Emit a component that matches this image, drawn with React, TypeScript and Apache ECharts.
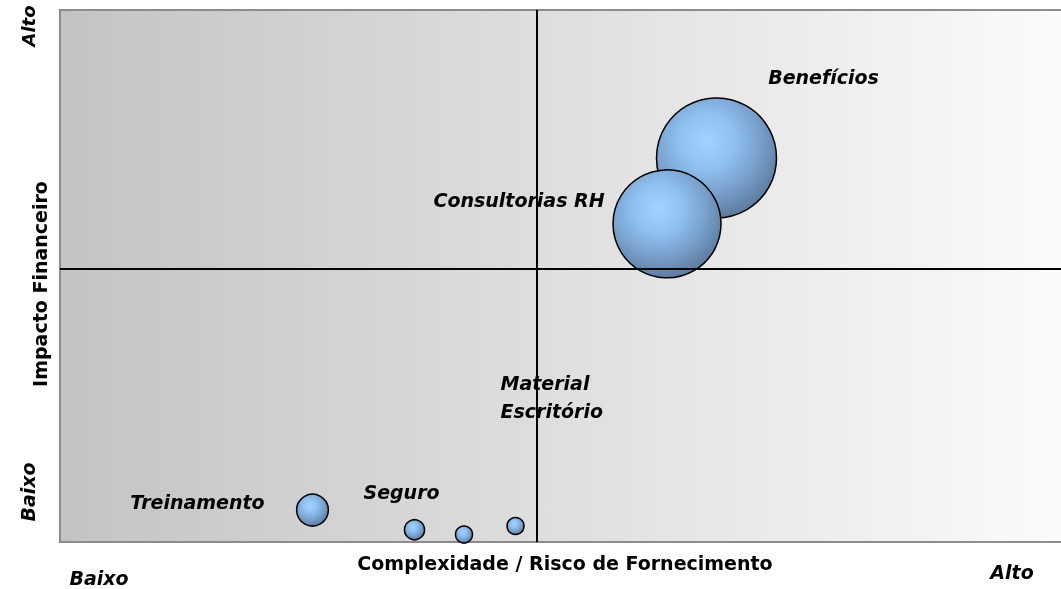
import React, { useEffect, useRef } from "react";
import * as echarts from "echarts";

const names = ["Benefícios", "Consultorias RH", "Treinamento", "Seguro", "", "Material\nEscritório"];
const complexidade = [65.0, 60.1, 25.0, 35.1, 40.0, 45.1];
const impacto = [72.2, 59.8, 6.0, 2.3, 1.4, 3.0];
const tamanho = [100, 81, 7, 2.8, 2, 2];
const labelOffsets: number[][] = [[107, -81], [-148, -24], [-115, -8], [-13, -38], [0, 0], [-15, -129]];
const divisorX = 47.2;
const divisorY = 51.3;

const FONT = "'DejaVu Sans', Verdana, sans-serif";

export default function App() {
  const ref = useRef<HTMLDivElement>(null);
  useEffect(() => {
    if (!ref.current) return;
    const chart = echarts.init(ref.current, undefined, { renderer: "svg" });
    const bubbleFill = new echarts.graphic.RadialGradient(0.42, 0.36, 0.64, [
      { offset: 0, color: "#a3d2ff" },
      { offset: 0.35, color: "#8fc1f1" },
      { offset: 0.7, color: "#789fca" },
      { offset: 1, color: "#5e7ea1" },
    ]);
    const data = names.map((n, i) => ({
      name: n,
      value: [complexidade[i], impacto[i], tamanho[i]],
      label: {
        show: n !== "",
        offset: labelOffsets[i],
        align: i === 5 ? "left" : "center",
      },
    }));
    const cornerFont = `italic bold 19px ${FONT}`;
    chart.setOption({
      animation: false,
      textStyle: { fontFamily: FONT },
      grid: {
        left: 60,
        top: 10,
        right: 0,
        bottom: 47,
        show: true,
        borderColor: "#8c8c8c",
        borderWidth: 2,
        backgroundColor: new echarts.graphic.LinearGradient(0, 0, 1, 0, [
          { offset: 0, color: "#c3c3c3" },
          { offset: 0.5, color: "#dfdfdf" },
          { offset: 1, color: "#fbfbfb" },
        ]),
      },
      xAxis: {
        type: "value",
        min: 0,
        max: 100,
        name: "Complexidade / Risco de Fornecimento",
        nameLocation: "middle",
        nameGap: 11,
        nameTextStyle: { fontFamily: FONT, fontWeight: "bold", fontSize: 19, color: "#000" },
        axisLine: { show: false },
        axisTick: { show: false },
        axisLabel: { show: false },
        splitLine: { show: false },
      },
      yAxis: {
        type: "value",
        min: 0,
        max: 100,
        axisLine: { show: false },
        axisTick: { show: false },
        axisLabel: { show: false },
        splitLine: { show: false },
      },
      graphic: [
        { type: "text", x: 40, y: 284, rotation: Math.PI / 2, style: { text: "Impacto Financeiro", font: `bold 19px ${FONT}`, fill: "#000", align: "center", verticalAlign: "middle" } },
        { type: "text", x: 28, y: 26, rotation: Math.PI / 2, style: { text: "Alto", font: `italic bold 18px ${FONT}`, fill: "#000", align: "center", verticalAlign: "middle" } },
        { type: "text", x: 28, y: 492, rotation: Math.PI / 2, style: { text: "Baixo", font: cornerFont, fill: "#000", align: "center", verticalAlign: "middle" } },
        { type: "text", x: 99, y: 578, style: { text: "Baixo", font: cornerFont, fill: "#000", align: "center", verticalAlign: "middle" } },
        { type: "text", x: 1012, y: 572, style: { text: "Alto", font: cornerFont, fill: "#000", align: "center", verticalAlign: "middle" } },
      ],
      series: [
        {
          type: "scatter",
          data,
          symbolSize: (v: number[]) => 12 * Math.sqrt(v[2]),
          itemStyle: { color: bubbleFill, borderColor: "#000", borderWidth: 1.5, opacity: 1 },
          label: {
            position: "inside",
            formatter: (p: any) => p.name,
            fontFamily: FONT,
            fontWeight: "bold",
            fontStyle: "italic",
            fontSize: 19,
            lineHeight: 28,
            color: "#000",
          },
          emphasis: { disabled: true },
          markLine: {
            silent: true,
            symbol: "none",
            label: { show: false },
            lineStyle: { color: "#000", width: 2, type: "solid" },
            data: [{ xAxis: divisorX }, { yAxis: divisorY }],
          },
          z: 3,
        },
      ],
    });
    return () => chart.dispose();
  }, []);
  return (
    <div style={{ position: "fixed", left: 0, top: 0, width: 1061, height: 589, overflow: "hidden" }}>
      <div ref={ref} style={{ width: 1070, height: 589 }} />
    </div>
  );
}
